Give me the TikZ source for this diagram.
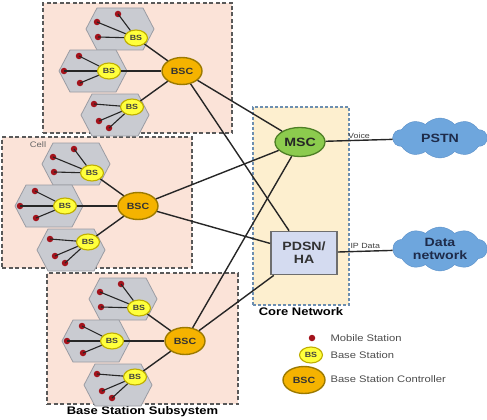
\documentclass[tikz,border=0pt]{standalone}
\usepackage{fontspec}
\setmainfont{Liberation Sans}[FakeStretch=1.18]
\usepackage{tikz}
\usetikzlibrary{shapes.geometric, shapes.symbols}
\definecolor{subfill}{HTML}{FBE3D8}
\definecolor{corefill}{HTML}{FDEFCF}
\definecolor{coreedge}{HTML}{6C8EB0}
\definecolor{hexfill}{HTML}{C9CBD1}
\definecolor{hexedge}{HTML}{9A9CA3}
\definecolor{bsfill}{HTML}{FFFF3C}
\definecolor{bsedge}{HTML}{BFAE00}
\definecolor{bscfill}{HTML}{F5B300}
\definecolor{bscedge}{HTML}{9C7A00}
\definecolor{mscfill}{HTML}{8CCB4E}
\definecolor{mscedge}{HTML}{4E7F26}
\definecolor{pdsnfill}{HTML}{D4DBF0}
\definecolor{pdsnedge}{HTML}{6E6E6E}
\definecolor{cloudfill}{HTML}{6EA6DD}
\definecolor{cloudedge}{HTML}{5A8FC8}
\definecolor{msred}{HTML}{A3131C}
\definecolor{linkc}{HTML}{262626}
\definecolor{navy}{HTML}{1E2B4A}

\tikzset{
  subsys/.style={draw=black!65, dash pattern=on 4pt off 2.5pt, line width=1.3pt, fill=subfill},
  corebox/.style={draw=coreedge, dash pattern=on 3pt off 2pt, line width=1.1pt, fill=corefill},
  hexcell/.style={draw=hexedge, fill=hexfill, line width=0.8pt},
  bs/.style={ellipse, draw=bsedge, fill=bsfill, line width=1.1pt, inner sep=0pt,
    minimum width=23pt, minimum height=16pt, text=black!75,
    font=\bfseries\fontsize{7.5}{8}\selectfont},
  bsc/.style={ellipse, draw=bscedge, fill=bscfill, line width=1.4pt, inner sep=0pt,
    minimum width=40pt, minimum height=27pt, text=black!80,
    font=\bfseries\fontsize{9}{10}\selectfont},
  ms/.style={circle, fill=msred, inner sep=0pt, minimum size=6.5pt},
  msline/.style={draw=linkc, line width=1.1pt},
  link/.style={draw=linkc, line width=1.4pt},
  vlabel/.style={font=\fontsize{7.5}{8}\selectfont, text=black!75, inner sep=1.5pt},
  legtext/.style={anchor=west, font=\fontsize{9.5}{11}\selectfont, text=black!70},
  cloudy/.style={cloud, cloud puffs=10, cloud puff arc=95, aspect=2.3, draw=cloudedge,
    fill=cloudfill, inner sep=0pt, minimum width=94pt, text=navy,
    font=\bfseries\fontsize{12}{13}\selectfont},
  cellA/.pic={
    \draw[hexcell] (-34,0) -- (-23,-21) -- (23,-21) -- (34,0) -- (23,21) -- (-23,21) -- cycle;
    \foreach \mx/\my [count=\k] in {-2/-15,-23/-7,-22/8}
      \node[ms] (-m\k) at (\mx,\my) {};
    \node[bs] (-bs) at (16,9) {BS};
    \foreach \k in {1,2,3} \draw[msline] (-bs) -- (-m\k.center);
  },
  cellB/.pic={
    \draw[hexcell] (-34,0) -- (-23,-21) -- (23,-21) -- (34,0) -- (23,21) -- (-23,21) -- cycle;
    \foreach \mx/\my [count=\k] in {-14/-15,-29/0,-13/12}
      \node[ms] (-m\k) at (\mx,\my) {};
    \node[bs] (-bs) at (16,0) {BS};
    \foreach \k in {1,2,3} \draw[msline] (-bs) -- (-m\k.center);
  },
  cellC/.pic={
    \draw[hexcell] (-34,0) -- (-23,-21) -- (23,-21) -- (34,0) -- (23,21) -- (-23,21) -- cycle;
    \foreach \mx/\my [count=\k] in {-21/-11,-16/6,-6/13}
      \node[ms] (-m\k) at (\mx,\my) {};
    \node[bs] (-bs) at (17,-8) {BS};
    \foreach \k in {1,2,3} \draw[msline] (-bs) -- (-m\k.center);
  },
}

\begin{document}
\begin{tikzpicture}[x=1pt, y=-1pt]
  \useasboundingbox (0,0) rectangle (487,420);
  % base station subsystems
  \node[subsys, minimum width=189pt, minimum height=130pt] (suba) at (137.5,68) {};
  \node[subsys, minimum width=190pt, minimum height=131pt] (subb) at (97,202.5) {};
  \node[subsys, minimum width=191pt, minimum height=131pt] (subc) at (142.5,338.5) {};
  \node[font=\fontsize{8}{9}\selectfont, text=black!60] (cell) at (38,145) {Cell};
  \node[font=\bfseries\fontsize{11}{12}\selectfont, anchor=north, inner sep=2pt]
    (bsslabel) at (subc.south) {Base Station Subsystem};
  % core network
  \node[corebox, minimum width=96pt, minimum height=198pt] (core) at (301,206) {};
  \node[font=\bfseries\fontsize{11}{12}\selectfont, anchor=north, inner sep=1.5pt]
    (corelabel) at (core.south) {Core Network};
  \node[ellipse, draw=mscedge, fill=mscfill, line width=1.3pt, inner sep=0pt,
    minimum width=50pt, minimum height=29pt, text=black!85,
    font=\bfseries\fontsize{12}{13}\selectfont] (msc) at (300,142) {MSC};
  \node[draw=pdsnedge, fill=pdsnfill, line width=1.7pt, align=center,
    minimum width=66pt, minimum height=43pt, text=black!80,
    font=\bfseries\fontsize{12}{13}\selectfont] (pdsn) at (304,253) {PDSN/\\HA};
  % clouds
  \node[cloudy, minimum height=40pt] (pstn) at (440,138) {PSTN};
  \node[cloudy, minimum height=44pt, align=center] (data) at (440,249) {Data\\network};
  \draw[link] (msc) -- node[midway, above, vlabel] {Voice} (pstn);
  \draw[link] (pdsn) -- node[midway, above, vlabel] {IP Data} (data);
  % cells and controllers
  \foreach \g/\cx/\cy in {a/182/71, b/138/206, c/185/341}{
    \node[bsc] (bsc\g) at (\cx,\cy) {BSC};
    \pic (\g1) at (\cx-62,\cy-42) {cellA};
    \pic (\g2) at (\cx-89,\cy) {cellB};
    \pic (\g3) at (\cx-67,\cy+44) {cellC};
    \foreach \k in {1,2,3}
      \draw[link] (\g\k-bs) -- (bsc\g);
  }
  \foreach \g in {a,b,c}{
    \draw[link] (bsc\g) -- (msc);
    \draw[link] (bsc\g) -- (pdsn);
  }
  % legend
  \node[ms] (lgms) at (312,338) {};
  \node[legtext] (lgmstext) at (327,338) {Mobile Station};
  \node[bs] (lgbs) at (311,355) {BS};
  \node[legtext] (lgbstext) at (327,355) {Base Station};
  \node[bsc, minimum width=42pt] (lgbsc) at (304,380) {BSC};
  \node[legtext] (lgbsctext) at (327,379) {Base Station Controller};
\end{tikzpicture}
\end{document}
